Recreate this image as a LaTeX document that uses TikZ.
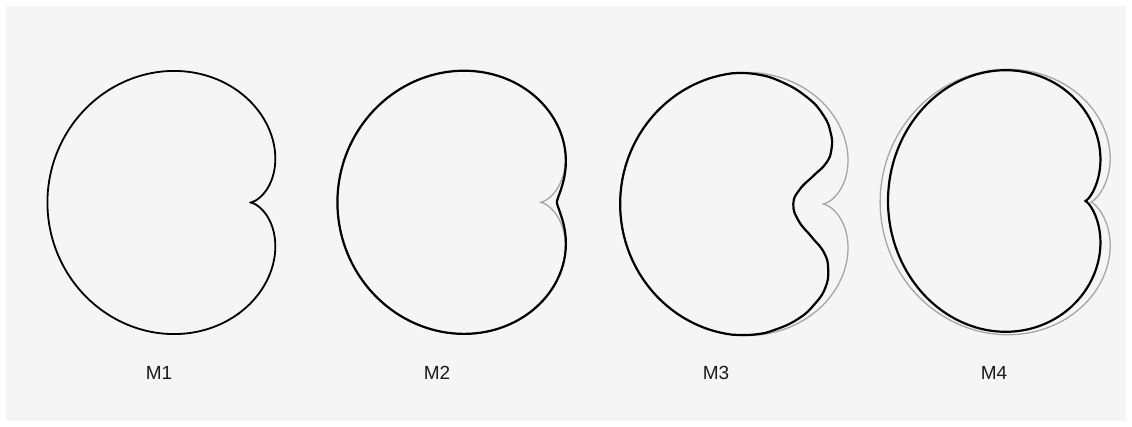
\documentclass[tikz,border=0pt]{standalone}
\usepackage{fontspec}
\setmainfont{Liberation Sans}
\definecolor{bgc}{HTML}{F5F5F5}
\definecolor{grc}{HTML}{A6A6A6}
\definecolor{txc}{HTML}{1A1A1A}
\begin{document}
\begin{tikzpicture}[x=1pt,y=-1pt,
  blk/.style={line width=2.2pt, draw=black, line join=round},
  blkthin/.style={line width=1.8pt, draw=black, line join=round},
  gry/.style={line width=1.3pt, draw=grc, line join=round},
  lbl/.style={font=\fontsize{19}{22}\selectfont, text=txc, inner sep=0pt}]
\useasboundingbox (0,0) rectangle (1132,427);
\fill[white] (0,0) rectangle (1132,427);
\fill[bgc] (6,6) rectangle (1126,421);

% M1
\begin{scope}[shift={(250,202.5)}]
\draw[blkthin] plot[domain=0:360, samples=241, variable=\t]
  ({101.3*(1-cos(\t))*cos(\t)}, {-101.3*(1-cos(\t))*sin(\t)}) -- cycle;
\end{scope}

% M2
\begin{scope}[shift={(540,202.3)}]
\draw[gry] plot[domain=0:360, samples=241, variable=\t]
  ({101.3*(1-cos(\t))*cos(\t)}, {-101.3*(1-cos(\t))*sin(\t)}) -- cycle;
\draw[blk] plot[domain=-180:180, samples=241, variable=\t]
  ({101.3*(1-cos(\t))*cos(\t) + 17*exp(-(\t/32)*(\t/32))}, {-101.3*(1-cos(\t))*sin(\t)}) -- cycle;
\end{scope}

% M3
\begin{scope}[shift={(822.7,204)}]
\draw[gry] plot[domain=0:360, samples=241, variable=\t]
  ({101.3*(1-cos(\t))*cos(\t)}, {-101.3*(1-cos(\t))*sin(\t)}) -- cycle;
\draw[blk] plot[domain=125:235, samples=56, variable=\t]
  ({101.3*(1-cos(\t))*cos(\t)}, {-101.3*(1-cos(\t))*sin(\t)})
  -- plot[smooth, tension=0.8] coordinates {(-91.4,130.6) (-68,130.5) (-47,125.5) (-24,114.5) (-8,100) (2.5,84) (5.5,66) (1.5,49) (-11,33) (-24,17) (-29.4,0) (-23,-14.5) (-9.5,-28) (3.5,-41) (8.8,-55) (8,-71) (0.5,-89) (-16,-107) (-42,-122.5) (-68,-130) (-91.4,-130.6)} -- cycle;
\end{scope}

% M4
\begin{scope}[shift={(1084.5,202)}]
\draw[gry] plot[domain=-180:180, samples=241, variable=\t]
  ({102.2*(1-cos(\t))*cos(\t) + 6*exp(-(\t/30)*(\t/30))}, {-102.2*(1-cos(\t))*sin(\t)}) -- cycle;
\end{scope}
\begin{scope}[shift={(1076.4,201)}]
\draw[blk] plot[domain=-180:180, samples=241, variable=\t]
  ({94.2*(1-cos(\t))*cos(\t) + 8.6*exp(-(\t/35)*(\t/35))}, {-100.7*(1-cos(\t))*sin(\t)}) -- cycle;
\end{scope}

\node[lbl] (m1) at (159,373) {M1};
\node[lbl] (m2) at (437,373) {M2};
\node[lbl] (m3) at (716,373) {M3};
\node[lbl] (m4) at (994,373) {M4};
\end{tikzpicture}
\end{document}
